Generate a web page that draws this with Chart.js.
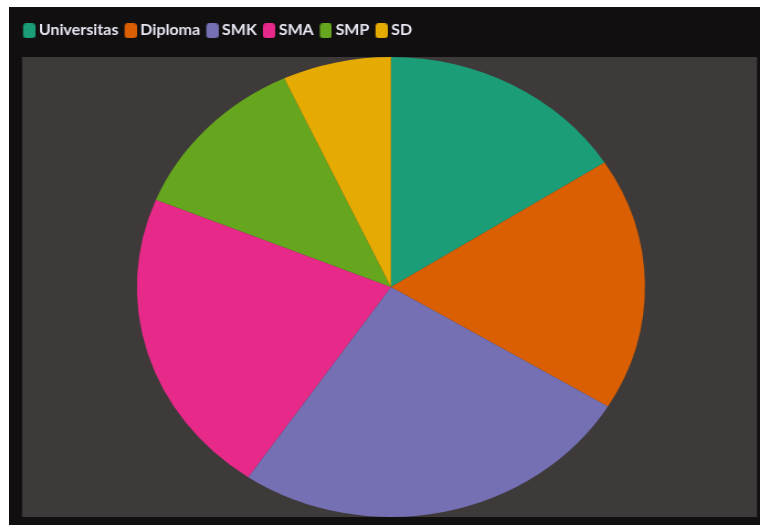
<!DOCTYPE html>
<html>
<head>
<meta charset="utf-8">
<script src="https://cdn.jsdelivr.net/npm/chart.js@4.4.1/dist/chart.umd.min.js"></script>
<style>
  html, body { margin: 0; padding: 0; background: #ffffff; overflow: hidden; }
  #frame {
    position: absolute; left: 9px; top: 7px; width: 751px; height: 518px;
    background: #110f10; overflow: hidden;
  }
  /* the reference pie is an ellipse, so the chart is stretched sideways */
  #wrap {
    position: absolute; left: 0; top: 0; width: 690px; height: 518px;
    transform: scaleX(1.1044); transform-origin: 0 0;
  }
</style>
</head>
<body>
<div id="frame"><div id="wrap"><canvas id="pie"></canvas></div></div>
<script>
const categories = ['Universitas', 'Diploma', 'SMK', 'SMA', 'SMP', 'SD'];
const shares = [15.9, 17.8, 25.8, 21.7, 11.9, 6.9];
const sliceColors = ['#1b9e77', '#d95f02', '#7570b3', '#e7298a', '#66a61e', '#e6ab02'];

// legend swatch: rounded box sitting a little closer to its label
function swatch(color) {
  const c = document.createElement('canvas');
  c.width = 19;
  c.height = 15;
  const g = c.getContext('2d');
  g.fillStyle = color;
  g.beginPath();
  g.roundRect(8, 0, 11, 15, 3);
  g.fill();
  return c;
}
const swatches = sliceColors.map(swatch);

const defaultLabels = Chart.overrides.pie.plugins.legend.labels.generateLabels;

// gray panel behind the pie, tied to the chart area
const panelBg = {
  id: 'panelBg',
  afterInit(chart) {
    // leave a bit more room under the legend
    const legend = chart.legend;
    const fit = legend.fit;
    legend.fit = function () {
      fit.call(this);
      this.height += 9;
    };
  },
  beforeDatasetsDraw(chart) {
    const { ctx, chartArea: a } = chart;
    ctx.save();
    ctx.fillStyle = '#3e3a3a';
    ctx.fillRect(a.left + 4.6, a.top, 665.5, a.bottom - a.top);
    ctx.restore();
  }
};

new Chart(document.getElementById('pie'), {
  type: 'pie',
  data: {
    labels: categories,
    datasets: [{
      data: shares,
      backgroundColor: sliceColors,
      borderWidth: 0
    }]
  },
  options: {
    responsive: true,
    maintainAspectRatio: false,
    animation: false,
    layout: { padding: { left: 7.2, right: 5.6, top: 15, bottom: 8 } },
    plugins: {
      tooltip: { enabled: false },
      legend: {
        position: 'top',
        align: 'start',
        labels: {
          color: '#e8e6f2',
          usePointStyle: true,
          pointStyleWidth: 11,
          boxHeight: 15,
          padding: 1.5,
          font: { family: 'Lato', size: 14.5, weight: 'bold' },
          generateLabels(chart) {
            return defaultLabels(chart).map((item, i) => {
              item.pointStyle = swatches[i];
              return item;
            });
          }
        }
      }
    }
  },
  plugins: [panelBg]
});
</script>
</body>
</html>
